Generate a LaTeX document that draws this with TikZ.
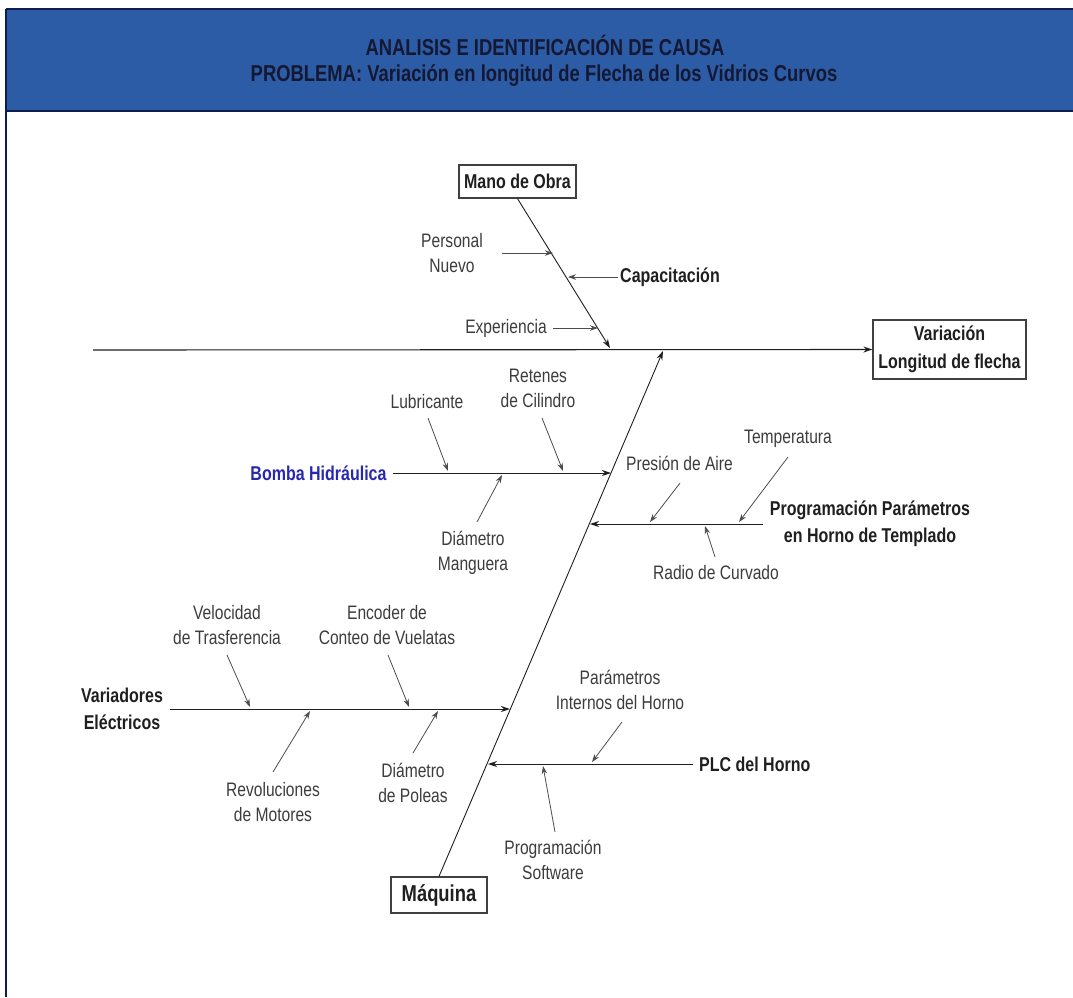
\documentclass[tikz,border=0pt]{standalone}
\usepackage{fontspec}
\setmainfont{Liberation Sans}[FakeStretch=0.8]
\usetikzlibrary{arrows.meta}
\definecolor{hdr}{RGB}{44,92,166}
\definecolor{hdrline}{RGB}{14,28,78}
\definecolor{hdrtext}{RGB}{20,24,50}
\definecolor{lbl}{RGB}{60,60,60}
\definecolor{bonec}{RGB}{30,30,30}
\definecolor{bombac}{RGB}{40,40,175}
\tikzset{
  lab/.style={font=\fontsize{19.5}{25}\selectfont, text=lbl, align=center, inner sep=0pt},
  blab/.style={font=\fontsize{20}{27}\selectfont\bfseries, text=black!88, align=center, inner sep=0pt},
  catbox/.style={draw=black!75, line width=1.2pt, fill=white, inner sep=0pt, align=center},
  bone/.style={draw=bonec, line width=1.1pt, -{Stealth[length=9pt,width=6pt]}},
  sub/.style={draw=black!70, line width=0.8pt, -{Stealth[length=8pt,width=5.5pt]}},
  ttl/.style={font=\fontsize{23}{28}\selectfont\bfseries, text=hdrtext, inner sep=0pt}
}
\begin{document}
\begin{tikzpicture}[x=1pt,y=-1pt]
\useasboundingbox (0,0) rectangle (1073,997);
% header
\fill[hdr] (6,9) rectangle (1073,111);
\draw[hdrline, line width=2pt] (6,9) -- (1073,9);
\draw[hdrline, line width=2pt] (6,111) -- (1073,111);
\draw[hdrline, line width=1.6pt] (6,9) -- (6,997);
\node[ttl] (t1) at (545,45) {ANALISIS E IDENTIFICACIÓN DE CAUSA};
\node[ttl] (t2) at (544,75) {PROBLEMA: Variación en longitud de Flecha de los Vidrios Curvos};

% main spine and effect
\node[catbox, font=\fontsize{20}{28}\selectfont\bfseries, text=black!88, minimum width=153pt, minimum height=59pt] (eff) at (949.5,349.5) {Variación\\Longitud de flecha};
\coordinate (spL) at (93,350);
\draw[bone] (spL) -- (eff.west);

% Mano de Obra
\node[catbox, font=\fontsize{20}{24}\selectfont\bfseries, text=black!88, minimum width=117pt, minimum height=33pt] (mano) at (517.5,181.5) {Mano de Obra};
\coordinate (mT) at (610,348);
\draw[bone, line width=0.9pt] (mano.south) -- (mT);
\node[lab] (pn) at (452,253.5) {Personal\\Nuevo};
\coordinate (pnA) at (502,253); \coordinate (pnB) at (553,253);
\draw[sub] (pnA) -- (pnB);
\node[blab, anchor=west] (cap) at (620,277) {Capacitación};
\coordinate (capA) at (618,277); \coordinate (capB) at (568,277);
\draw[sub] (capA) -- (capB);
\node[lab] (exp) at (506,328) {Experiencia};
\coordinate (expA) at (553,328); \coordinate (expB) at (598,328);
\draw[sub] (expA) -- (expB);

% Maquina
\node[catbox, font=\fontsize{23}{28}\selectfont\bfseries, text=black!88, minimum width=96pt, minimum height=36pt] (maq) at (439,895) {Máquina};
\coordinate (qT) at (663,351);
\draw[bone, line width=0.9pt] (maq.north) -- (qT);

% Bomba Hidraulica
\node[blab, text=bombac] (bomba) at (318.5,473) {Bomba Hidráulica};
\coordinate (bA) at (393,473); \coordinate (bT) at (611,473);
\draw[bone, line width=1pt] (bA) -- (bT);
\node[lab] (lub) at (427,402) {Lubricante};
\coordinate (lubA) at (428,418); \coordinate (lubB) at (448,471);
\draw[sub] (lubA) -- (lubB);
\node[lab] (ret) at (538,388.5) {Retenes\\de Cilindro};
\coordinate (retA) at (542,418); \coordinate (retB) at (563,471);
\draw[sub] (retA) -- (retB);
\node[lab] (dman) at (473,552.5) {Diámetro\\Manguera};
\coordinate (dmA) at (477,522); \coordinate (dmB) at (502,475);
\draw[sub] (dmA) -- (dmB);

% Programacion Parametros
\node[blab] (prog) at (870,523.5) {Programación Parámetros\\en Horno de Templado};
\coordinate (pR) at (763,524); \coordinate (pT) at (590,524);
\draw[bone, line width=1pt] (pR) -- (pT);
\node[lab] (pres) at (679.5,463) {Presión de Aire};
\coordinate (prA) at (680,483); \coordinate (prB) at (650,522);
\draw[sub] (prA) -- (prB);
\node[lab] (temp) at (788,439) {Temperatura};
\coordinate (teA) at (788,457); \coordinate (teB) at (739,522);
\draw[sub] (teA) -- (teB);
\node[lab] (radio) at (716,573) {Radio de Curvado};
\coordinate (raA) at (715,557); \coordinate (raB) at (705,526);
\draw[sub] (raA) -- (raB);

% Variadores Electricos
\node[blab] (var) at (122,709) {Variadores\\Eléctricos};
\coordinate (vA) at (170,709); \coordinate (vT) at (510,709);
\draw[bone, line width=1pt] (vA) -- (vT);
\node[lab] (vel) at (227,625) {Velocidad\\de Trasferencia};
\coordinate (veA) at (227,655); \coordinate (veB) at (250,707);
\draw[sub] (veA) -- (veB);
\node[lab] (enc) at (387,625) {Encoder de\\Conteo de Vuelatas};
\coordinate (enA) at (388,655); \coordinate (enB) at (409,707);
\draw[sub] (enA) -- (enB);
\node[lab] (rev) at (273,802.5) {Revoluciones\\de Motores};
\coordinate (rvA) at (273,772); \coordinate (rvB) at (310,711);
\draw[sub] (rvA) -- (rvB);
\node[lab] (pol) at (413,782.5) {Diámetro\\de Poleas};
\coordinate (poA) at (413,753); \coordinate (poB) at (438,711);
\draw[sub] (poA) -- (poB);

% PLC del Horno
\node[blab, anchor=west] (plc) at (699,764) {PLC del Horno};
\coordinate (plR) at (693,764); \coordinate (plT) at (488,764);
\draw[bone, line width=1pt] (plR) -- (plT);
\node[lab] (pint) at (620,690) {Parámetros\\Internos del Horno};
\coordinate (piA) at (622,722); \coordinate (piB) at (592,762);
\draw[sub] (piA) -- (piB);
\node[lab] (psw) at (553,860) {Programación\\Software};
\coordinate (psA) at (555,832); \coordinate (psB) at (543,766);
\draw[sub] (psA) -- (psB);
\end{tikzpicture}
\end{document}
